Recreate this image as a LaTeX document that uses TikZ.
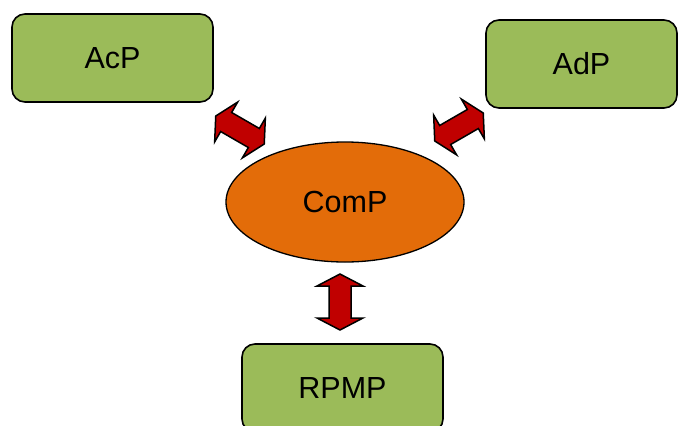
\documentclass[tikz,border=0pt]{standalone}
\usepackage{fontspec}
\setmainfont{Liberation Sans}
\usetikzlibrary{shapes.geometric}
\definecolor{boxgreen}{HTML}{9BBB59}
\definecolor{coreorange}{HTML}{E36C09}
\definecolor{linkred}{HTML}{C00000}
\begin{document}
\begin{tikzpicture}[x=1pt,y=-1pt,
  part/.style={draw=black, line width=1.6pt, fill=boxgreen, rounded corners=13pt,
    minimum width=201pt, minimum height=88pt, inner sep=0pt,
    font=\fontsize{30.5}{36}\selectfont},
  core/.style={ellipse, draw=black, line width=1.3pt, fill=coreorange,
    minimum width=238pt, minimum height=120pt, inner sep=0pt,
    font=\fontsize{30.5}{36}\selectfont},
  linkarrow/.style={draw=black, line width=1.5pt, fill=linkred, line join=miter},
  dblarrow/.pic={
    \path[linkarrow] (-28,0) -- (-16,-23) -- (-16,-11) -- (16,-11) -- (16,-23)
      -- (28,0) -- (16,23) -- (16,11) -- (-16,11) -- (-16,23) -- cycle;
  }]
\useasboundingbox (0,0) rectangle (678,426);
\clip (0,0) rectangle (678,426);
\fill[white] (0,0) rectangle (678,426);

% the three outer parts and the central one
\node[part] (acp)  at (112.5,58)  {AcP};
\node[part, minimum width=191pt] (adp) at (581.5,64) {AdP};
\node[part] (rpmp) at (342.5,388) {RPMP};
\node[core] (comp) at (345,202) {ComP};

% two-way links between ComP and each part
\coordinate (l1) at (240,130);
\coordinate (l2) at (459,127);
\coordinate (l3) at (340,302);
\pic[rotate=-30] at (l1) {dblarrow};
\pic[rotate=30]  at (l2) {dblarrow};
\pic[rotate=90]  at (l3) {dblarrow};
\end{tikzpicture}
\end{document}
